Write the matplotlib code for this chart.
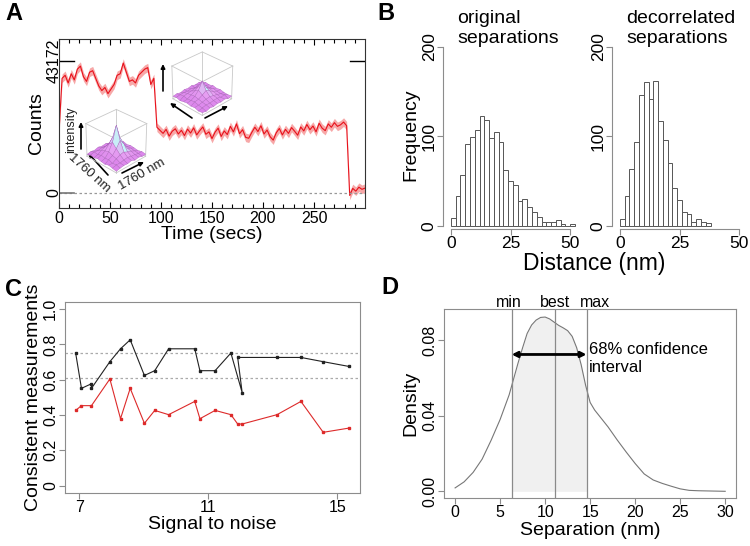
import numpy as np
import matplotlib
matplotlib.use("Agg")
import matplotlib.pyplot as plt
from matplotlib.colors import LinearSegmentedColormap
from itertools import combinations, product

plt.rcParams['font.family'] = ['Liberation Sans', 'DejaVu Sans']

# ---------------- data ----------------
# A: single-molecule intensity trace, kilo-counts sampled every 3 s
trace_t = np.arange(0, 301, 3)
trace_k = [20.0, 37.5, 38.5, 36.0, 39.0, 37.0, 40.5, 41.5, 38.0, 36.5,
           39.5, 40.0, 37.5, 35.0, 33.5, 34.5, 32.5, 34.0, 35.5, 38.5,
           39.0, 42.5, 39.5, 36.5, 37.0, 36.0, 38.5, 39.5, 40.5, 41.0,
           35.5, 37.5, 21.5, 20.5,
           19.5, 20.8, 18.6, 20.2, 21.0, 19.3, 20.5, 18.8, 20.9, 19.6,
           21.3, 19.0, 20.4, 21.6, 19.2, 20.0, 17.8, 19.9, 21.2, 18.5,
           20.3, 19.1, 21.8, 20.0, 22.6, 19.4, 20.7, 18.2, 17.9, 19.8,
           21.5, 20.1, 22.0, 19.3, 20.6, 18.4, 17.3, 19.7, 21.1, 19.0,
           20.8, 19.5, 21.4, 20.2, 18.9, 21.6, 20.3, 22.4, 20.7, 21.9,
           20.0, 22.8, 21.2, 20.4, 22.6, 21.5, 23.0, 21.8, 22.3, 23.2,
           22.0, -0.8, 1.5, 0.6, 1.9, 1.2, 1.6]
trace_err_k = 1.4
count_ticks = [0, 43172]

# A insets: PSF images (arbitrary intensity)
psf_first = [
    [0.06, 0.10, 0.08, 0.12, 0.09, 0.07, 0.11, 0.08, 0.05],
    [0.09, 0.14, 0.12, 0.16, 0.13, 0.15, 0.10, 0.12, 0.08],
    [0.07, 0.12, 0.20, 0.24, 0.28, 0.22, 0.18, 0.11, 0.10],
    [0.11, 0.15, 0.25, 0.40, 0.52, 0.38, 0.24, 0.14, 0.09],
    [0.08, 0.13, 0.29, 0.55, 1.00, 0.58, 0.27, 0.16, 0.12],
    [0.10, 0.16, 0.22, 0.38, 0.54, 0.42, 0.21, 0.13, 0.07],
    [0.06, 0.11, 0.18, 0.23, 0.26, 0.20, 0.17, 0.12, 0.10],
    [0.09, 0.13, 0.10, 0.15, 0.12, 0.14, 0.11, 0.09, 0.06],
    [0.05, 0.08, 0.11, 0.07, 0.10, 0.08, 0.06, 0.09, 0.07],
]
psf_second = [
    [0.08, 0.11, 0.07, 0.10, 0.12, 0.09, 0.11, 0.07, 0.09],
    [0.10, 0.13, 0.15, 0.12, 0.14, 0.16, 0.12, 0.10, 0.06],
    [0.07, 0.14, 0.17, 0.19, 0.21, 0.18, 0.15, 0.13, 0.10],
    [0.11, 0.12, 0.19, 0.26, 0.34, 0.25, 0.18, 0.12, 0.08],
    [0.09, 0.15, 0.21, 0.35, 0.58, 0.33, 0.20, 0.14, 0.11],
    [0.12, 0.11, 0.18, 0.24, 0.32, 0.26, 0.17, 0.15, 0.09],
    [0.08, 0.14, 0.15, 0.18, 0.20, 0.17, 0.14, 0.11, 0.12],
    [0.10, 0.09, 0.13, 0.11, 0.15, 0.12, 0.10, 0.13, 0.07],
    [0.06, 0.10, 0.08, 0.12, 0.09, 0.11, 0.08, 0.07, 0.09],
]

# B: histograms of separations, 2 nm bins starting at 0
bin_left = np.arange(0, 52, 2)
orig_counts = [9, 33, 57, 91, 99, 107, 122, 118, 98, 105, 94, 62, 50, 45,
               28, 30, 21, 15, 10, 4, 4, 4, 6, 2, 0, 2]
decor_counts = [8, 33, 63, 93, 146, 160, 142, 162, 117, 96, 70, 42, 29, 15,
                13, 4, 8, 4, 3]

# C: fraction of consistent measurements vs signal to noise
snr = [6.89, 7.07, 7.38, 7.38, 7.95, 8.28, 8.58, 9.02, 9.34, 9.77,
       10.58, 10.74, 11.21, 11.70, 12.05, 11.91, 13.13, 13.87, 14.56, 15.36]
frac_black = [0.751, 0.551, 0.577, 0.551, 0.702, 0.775, 0.826, 0.624, 0.651, 0.775,
              0.775, 0.651, 0.651, 0.751, 0.526, 0.726, 0.726, 0.726, 0.702, 0.675]
snr_red = [6.89, 7.07, 7.38, 7.95, 8.28, 8.58, 9.02, 9.34, 9.77, 10.58,
           10.74, 11.21, 11.70, 11.91, 12.05, 13.13, 13.87, 14.56, 15.36]
frac_red = [0.426, 0.453, 0.453, 0.604, 0.379, 0.551, 0.353, 0.426, 0.402, 0.477,
            0.379, 0.426, 0.402, 0.349, 0.349, 0.402, 0.477, 0.302, 0.326]
frac_refs = [0.75, 0.61]

# D: density of separation estimates
sep = [0, 1, 2, 3, 4, 5, 6, 7, 7.5, 8, 8.5, 9, 9.5, 10, 10.5, 11, 11.5, 12,
       12.5, 13, 13.5, 14, 14.5, 15, 15.5, 16, 17, 18, 19, 20, 21, 22, 23, 24,
       25, 26, 27, 28, 29, 30]
dens = [0.0018, 0.005, 0.010, 0.017, 0.027, 0.038, 0.051, 0.068, 0.076, 0.0835,
        0.088, 0.0906, 0.0920, 0.0922, 0.0912, 0.0895, 0.0878, 0.0865, 0.0850,
        0.0820, 0.0760, 0.0670, 0.0560, 0.0470, 0.0430, 0.0400, 0.0340, 0.0272,
        0.0208, 0.0147, 0.0092, 0.0060, 0.0042, 0.0027, 0.0013, 0.0005, 0.0003,
        0.0002, 0.0001, 0.0]
sep_min, sep_best, sep_max = 6.28, 11.14, 14.6

# ---------------- figure ----------------
W, H = 750, 546
fig = plt.figure(figsize=(7.5, 5.46), dpi=100)


def box(l, t, r, b):
    return [l / W, 1 - b / H, (r - l) / W, (b - t) / H]


def fp(x, y):
    return (x / W, 1 - y / H)


GRAY = '#8c8c8c'
TICK = 11.5
LAB = 14

# ---- A ----
ax = fig.add_axes(box(59, 39, 365, 208))
counts = np.array(trace_k) * 1000
ax.fill_between(trace_t, counts - trace_err_k * 1000, counts + trace_err_k * 1000,
                color='#f7a8a8', lw=0)
ax.plot(trace_t, counts, color='#e8101a', lw=0.8)
ax.axhline(0, color='#999999', lw=0.9, ls=(0, (2, 2)))
ax.axhline(0, xmax=0.05, color='#777777', lw=1.2)
ax.axhline(count_ticks[1], xmax=0.05, color='k', lw=1)
ax.axhline(count_ticks[1], xmin=0.95, color='k', lw=1)
ax.set_xlim(0, 300)
ax.set_ylim(-4906, 50367)
ax.set_xticks(range(0, 251, 50))
ax.set_xticks(range(0, 300, 10), minor=True)
ax.tick_params(axis='x', which='both', direction='in', top=True, labelsize=TICK, pad=2)
ax.tick_params(axis='x', which='major', length=4.5, width=0.8)
ax.tick_params(axis='x', which='minor', length=2.8, width=0.8)
ax.set_yticks(count_ticks, [str(v) for v in count_ticks])
ax.tick_params(axis='y', length=0, labelsize=TICK, pad=-2)
for lab in ax.get_yticklabels():
    lab.set_rotation(90)
    lab.set_va('center')
for s in ax.spines.values():
    s.set_color('#333333')
ax.set_xlabel('Time (secs)', fontsize=LAB, labelpad=0)
ax.set_ylabel('Counts', fontsize=LAB, labelpad=1)

psf_cmap = LinearSegmentedColormap.from_list('psf', ['#d778e8', '#e7a2f3', '#c4f6f8'])


def psf_inset(rect, grid):
    a3 = fig.add_axes(rect, projection='3d')
    z = np.array(grid)
    n = z.shape[0]
    gx, gy = np.meshgrid(np.arange(n), np.arange(n))
    a3.plot_surface(gx, gy, z, facecolors=psf_cmap(np.clip(z / 0.55, 0, 1)),
                    edgecolor='#a860b8', linewidth=0.25, shade=False,
                    rstride=1, cstride=1)
    top = 1.05
    corners = list(product([0, n - 1], [0, n - 1], [0, top]))
    for p, q in combinations(corners, 2):
        if sum(a != b for a, b in zip(p, q)) == 1:
            a3.plot(*zip(p, q), color='#c8c8c8', lw=0.6)
    a3.view_init(elev=31, azim=-45)
    a3.set_box_aspect((1, 1, 0.82), zoom=0.8)
    a3.set_axis_off()
    a3.patch.set_alpha(0)
    return a3


psf_inset(box(67, 93.5, 163, 189.5), psf_first)
psf_inset(box(153, 36, 249, 132), psf_second)

arr = dict(arrowstyle='-|>', color='k', lw=1.2, mutation_scale=6,
           shrinkA=0, shrinkB=0)
for tail, head in [((81, 149), (81, 122)), ((108, 175), (88, 153)),
                   ((122, 173), (144, 162)), ((163, 91), (163, 64)),
                   ((192, 118), (170, 103)), ((205, 118), (228, 106))]:
    ax.annotate('', xy=fp(*head), xytext=fp(*tail), xycoords='figure fraction',
                textcoords='figure fraction', arrowprops=arr)
fig.text(*fp(71, 130), 'intensity', rotation=90, ha='center', va='center',
         fontsize=9, color='#222222')
fig.text(*fp(89, 173), '1760 nm', rotation=-42, ha='center', va='center',
         fontsize=9.5, color='#222222')
fig.text(*fp(142, 174), '1760 nm', rotation=30, ha='center', va='center',
         fontsize=9.5, color='#222222')

# ---- B ----
for (l, r), cnt, title, ylab in [((443, 580), orig_counts, 'original\nseparations', True),
                                 ((612, 749), decor_counts, 'decorrelated\nseparations', False)]:
    axb = fig.add_axes(box(l, 39.5, r, 229.3))
    axb.bar(bin_left[:len(cnt)], cnt, width=2, align='edge', color='white',
            edgecolor='#555555', linewidth=0.7)
    axb.set_xlim(-3.3, 54.1)
    axb.set_ylim(-4, 208)
    for side in ['top', 'right']:
        axb.spines[side].set_visible(False)
    axb.spines['left'].set_bounds(0, 200)
    axb.spines['bottom'].set_bounds(0, 50)
    for side in ['left', 'bottom']:
        axb.spines[side].set_color(GRAY)
    axb.set_xticks([0, 25, 50])
    axb.set_yticks([0, 100, 200])
    axb.tick_params(colors=GRAY, labelcolor='k', labelsize=TICK + 1, length=4, pad=0.5)
    for lab in axb.get_yticklabels():
        lab.set_rotation(90)
        lab.set_va('center')
    fig.text(*fp(l + 14, 10), title, ha='left', va='top', fontsize=LAB)
    if ylab:
        axb.set_ylabel('Frequency', fontsize=LAB, labelpad=2)
fig.text(*fp(594, 263), 'Distance (nm)', ha='center', va='center', fontsize=16.5)

# ---- C ----
axc = fig.add_axes(box(65, 302, 360, 492.7))
for y in frac_refs:
    axc.axhline(y, color='#aaaaaa', lw=0.9, ls=(0, (2, 2)))
axc.plot(snr, frac_black, color='#222222', lw=0.8, marker='s', ms=2)
axc.plot(snr_red, frac_red, color='#dd2a2a', lw=0.8, marker='s', ms=2)
axc.set_xlim(6.56, 15.70)
axc.set_ylim(-0.04, 1.04)
axc.set_xticks([7, 11, 15])
axc.set_yticks([0, 0.2, 0.4, 0.6, 0.8, 1.0], ['0', '0.2', '0.4', '0.6', '0.8', '1.0'])
axc.tick_params(colors=GRAY, labelcolor='k', labelsize=TICK, length=4, pad=1)
for lab in axc.get_yticklabels():
    lab.set_rotation(90)
    lab.set_va('center')
for s in axc.spines.values():
    s.set_color(GRAY)
axc.set_xlabel('Signal to noise', fontsize=LAB, labelpad=1)
axc.set_ylabel('Consistent measurements', fontsize=LAB, labelpad=1)

# ---- D ----
axd = fig.add_axes(box(444.3, 309.3, 736, 498.3))
sep_a = np.array(sep)
dens_a = np.array(dens)
inside = (sep_a >= sep_min) & (sep_a <= sep_max)
xs = np.concatenate([[sep_min], sep_a[inside], [sep_max]])
ys = np.interp(xs, sep_a, dens_a)
axd.fill_between(xs, 0, ys, color='#f0f0f0', lw=0)
axd.plot(sep, dens, color='#777777', lw=0.8)
for v in (sep_min, sep_best, sep_max):
    axd.axvline(v, color='#8a8a8a', lw=0.9)
axd.annotate('', xy=(sep_min, 0.0724), xytext=(sep_max, 0.0724),
             arrowprops=dict(arrowstyle='<|-|>', color='k', lw=2,
                             mutation_scale=8, shrinkA=0, shrinkB=0))
axd.text(14.85, 0.0788, '68% confidence\ninterval', ha='left', va='top', fontsize=TICK + 0.5)
for xv, name in [(6.0, 'min'), (11.1, 'best'), (15.5, 'max')]:
    axd.text(xv, 0.995, name, transform=axd.get_xaxis_transform(),
             ha='center', va='bottom', fontsize=TICK)
axd.set_xlim(-1.2, 31.2)
axd.set_ylim(-0.0037, 0.0963)
axd.set_xticks(range(0, 31, 5))
axd.set_yticks([0, 0.04, 0.08], ['0.00', '0.04', '0.08'])
axd.tick_params(colors=GRAY, labelcolor='k', labelsize=TICK, length=4, pad=1)
for lab in axd.get_yticklabels():
    lab.set_rotation(90)
    lab.set_va('center')
for s in axd.spines.values():
    s.set_color(GRAY)
axd.set_xlabel('Separation (nm)', fontsize=LAB, labelpad=1)
axd.set_ylabel('Density', fontsize=LAB, labelpad=2)

# panel letters
for x, y, letter in [(14, 14, 'A'), (386, 14, 'B'), (13, 290, 'C'), (390, 287, 'D')]:
    fig.text(*fp(x, y), letter, ha='center', va='center', fontsize=17, fontweight='bold')

fig.savefig('out.png', dpi=100)
